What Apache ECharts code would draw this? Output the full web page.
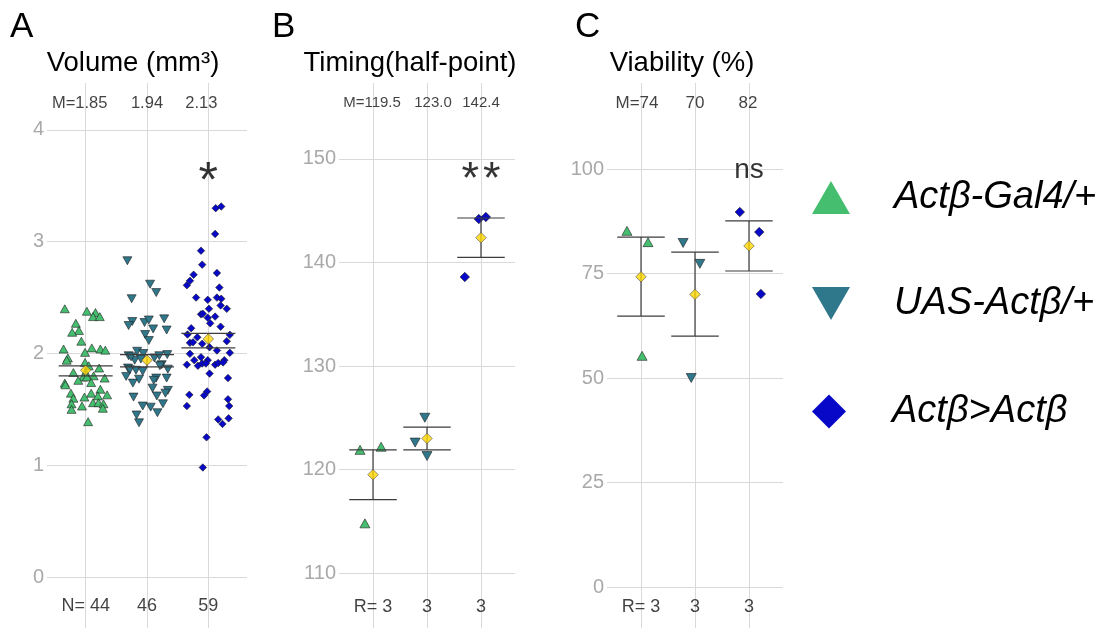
<!DOCTYPE html>
<html><head><meta charset="utf-8">
<script src="https://cdn.jsdelivr.net/npm/echarts@6/dist/echarts.min.js"></script>
<style>html,body{margin:0;padding:0;background:#fff}#c{width:1104px;height:628px}</style>
</head><body><div id="c"></div>
<script>
// ---------- DATA ----------
const groups = ['Actβ-Gal4/+', 'UAS-Actβ/+', 'Actβ>Actβ'];

// Panel A: Volume (mm3), values and horizontal jitter (in category units)
const volGal4 = [2.40,2.378,2.366,2.33,2.33,2.27,2.205,2.19,2.11,2.04,2.05,2.01,2.04,2.03,1.96,1.94,1.92,1.89,1.87,1.83,1.83,1.80,1.79,1.79,1.76,1.78,1.735,1.72,1.74,1.645,1.68,1.60,1.61,1.645,1.62,1.63,1.55,1.56,1.56,1.55,1.53,1.50,1.51,1.39];
const volGal4Jit = [-0.34,0.02,0.16,0.12,0.23,-0.16,-0.11,-0.22,-0.07,-0.36,0.10,-0.01,0.24,0.32,-0.29,-0.31,-0.01,0.05,0.22,-0.20,0.00,0.13,-0.04,0.02,-0.12,0.31,-0.34,-0.33,0.09,-0.24,0.24,-0.20,-0.02,0.09,0.20,0.35,-0.23,0.12,0.21,0.29,-0.06,-0.23,0.28,0.04];
const volUas = [2.83,2.62,2.545,2.49,2.286,2.25,2.277,2.30,2.31,2.22,2.21,2.17,2.116,2.02,1.98,1.99,1.94,1.90,1.87,1.86,1.855,1.85,1.84,1.795,1.77,1.78,1.76,1.735,1.78,1.69,1.67,1.645,1.62,1.61,1.55,1.53,1.52,1.47,1.45,1.38,1.89,2.00,1.96,1.95,1.98,1.97];
const volUasJit = [-0.32,0.05,0.15,-0.25,-0.24,-0.30,-0.04,0.03,0.28,0.10,0.32,-0.03,0.03,-0.16,-0.30,0.33,-0.20,0.24,-0.31,0.34,-0.28,-0.18,-0.07,-0.34,-0.13,0.15,0.11,-0.23,0.32,0.09,0.34,0.30,0.16,-0.22,0.26,-0.07,0.06,0.17,-0.17,-0.13,0.21,-0.06,0.12,-0.10,0.20,-0.26];
const volAct = [3.30,3.315,3.07,2.92,2.795,2.72,2.705,2.65,2.61,2.59,2.48,2.50,2.49,2.43,2.40,2.40,2.35,2.355,2.32,2.33,2.27,2.226,2.24,2.17,2.145,2.167,2.095,2.10,2.087,2.056,2.11,2.027,2.006,1.997,1.94,1.967,1.94,1.94,1.90,1.89,1.91,1.91,1.90,1.915,1.92,1.82,1.78,1.63,1.66,1.625,1.59,1.53,1.53,1.41,1.37,1.42,1.25,0.98,2.50];
const volActJit = [0.12,0.21,0.11,-0.12,-0.10,0.14,-0.24,-0.30,-0.35,0.18,-0.01,0.14,0.21,0.20,0.30,0.01,-0.12,-0.09,-0.01,0.11,0.03,-0.28,0.20,-0.34,-0.18,0.35,-0.30,-0.25,-0.10,0.02,0.30,0.14,0.35,-0.30,-0.23,-0.12,-0.01,0.26,-0.35,-0.17,-0.10,-0.04,0.11,0.16,0.24,0.02,0.32,-0.31,-0.02,-0.07,0.32,-0.35,0.34,0.16,0.23,0.33,-0.03,-0.09,-0.20];
const volMean = [1.85, 1.94, 2.13];
const volLow  = [1.80, 1.88, 2.05];
const volHigh = [1.89, 1.99, 2.18];
const volTicks = [0, 1, 2, 3, 4];
const volTop = ['M=1.85', '1.94', '2.13'];
const volBottom = ['N= 44', '46', '59'];

// Panel B: Timing (half-point)
const timGal4 = [121.9, 122.2, 114.8];  const timGal4Jit = [-0.24, 0.15, -0.15];
const timUas  = [125.0, 122.6, 121.3];  const timUasJit  = [-0.04, -0.22, 0.0];
const timAct  = [144.2, 144.4, 138.6];  const timActJit  = [-0.04, 0.09, -0.30];
const timMean = [119.5, 123.0, 142.4];
const timLow  = [117.1, 121.9, 140.5];
const timHigh = [121.9, 124.1, 144.3];
const timTicks = [110, 120, 130, 140, 150];
const timTop = ['M=119.5', '123.0', '142.4'];
const timBottom = ['R= 3', '3', '3'];

// Panel C: Viability (%)
const viaGal4 = [85.2, 82.5, 55.3];  const viaGal4Jit = [-0.26, 0.13, 0.02];
const viaUas  = [82.3, 77.3, 50.0];  const viaUasJit  = [-0.22, 0.09, -0.07];
const viaAct  = [89.7, 84.9, 70.1];  const viaActJit  = [-0.17, 0.19, 0.22];
const viaMean = [74.2, 70.0, 81.6];
const viaLow  = [64.8, 60.0, 75.6];
const viaHigh = [83.7, 80.1, 87.6];
const viaTicks = [0, 25, 50, 75, 100];
const viaTop = ['M=74', '70', '82'];
const viaBottom = ['R= 3', '3', '3'];

const signif = ['*', '**', 'ns'];
const titles = ['Volume (mm³)', 'Timing(half-point)', 'Viability (%)'];
const letters = ['A', 'B', 'C'];

// ---------- STYLE / LAYOUT ----------
const FONT = "'Liberation Sans', Arial, Helvetica, sans-serif";
const COLORS = ['#46be6f', '#2f778a', '#0808c8'];
const GRIDC = '#d9d9d9';
const panels = [
  { grid: {left: 47, top: 83, width: 200, height: 545}, yMin: -0.456, yMax: 4.42, ticks: volTicks,
    sets: [[volGal4, volGal4Jit], [volUas, volUasJit], [volAct, volActJit]],
    mean: volMean, low: volLow, high: volHigh, top: volTop, bottom: volBottom,
    topY: 4.24, botY: -0.26, topSize: 16.5, topOff: [-6, 0, -7], sigY: 3.60, sigSize: 50, sigOff: 9,
    tri: [9, 8], dia: 7.5, meanSize: 10.5, titleX: 133, letterX: 10 },
  { grid: {left: 339, top: 83, width: 176, height: 545}, yMin: 104.69, yMax: 157.34, ticks: timTicks,
    sets: [[timGal4, timGal4Jit], [timUas, timUasJit], [timAct, timActJit]],
    mean: timMean, low: timLow, high: timHigh, top: timTop, bottom: timBottom,
    topY: 155.4, botY: 106.7, topSize: 15, topOff: [-1, 6, 0], sigY: 148.9, sigSize: 45, sigOff: 10,
    tri: [10, 9], dia: 9.5, meanSize: 10.5, titleX: 410, letterX: 272 },
  { grid: {left: 607, top: 83, width: 176, height: 545}, yMin: -9.81, yMax: 120.57, ticks: viaTicks,
    sets: [[viaGal4, viaGal4Jit], [viaUas, viaUasJit], [viaAct, viaActJit]],
    mean: viaMean, low: viaLow, high: viaHigh, top: viaTop, bottom: viaBottom,
    topY: 115.8, botY: -4.8, topSize: 17, topOff: [-4, 0, -1], sigY: 99.8, sigSize: 28, sigOff: 0,
    tri: [10, 9], dia: 9.5, meanSize: 10.5, titleX: 682, letterX: 575 }
];

const grids = [], xAxes = [], yAxes = [], series = [], graphic = [];
panels.forEach((p, pi) => {
  grids.push(Object.assign({containLabel: false}, p.grid));
  xAxes.push({
    gridIndex: pi, type: 'value', min: 0.37, max: 3.63,
    axisLine: {show: false}, axisTick: {show: false, customValues: [1, 2, 3]},
    axisLabel: {show: false, customValues: [1, 2, 3]},
    splitLine: {show: true, lineStyle: {color: GRIDC, width: 1}}
  });
  yAxes.push({
    gridIndex: pi, type: 'value', min: p.yMin, max: p.yMax,
    axisLine: {show: false}, axisTick: {show: false, customValues: p.ticks},
    axisLabel: {customValues: p.ticks, fontSize: 20, color: '#a9a9a9', margin: 3, fontFamily: FONT},
    splitLine: {show: true, lineStyle: {color: GRIDC, width: 1}}
  });
  // points
  p.sets.forEach((set, g) => {
    const vals = set[0], jit = set[1];
    series.push({
      type: 'scatter', name: groups[g], xAxisIndex: pi, yAxisIndex: pi, silent: true,
      symbol: g === 2 ? 'diamond' : 'triangle', symbolRotate: g === 1 ? 180 : 0,
      symbolSize: g === 2 ? [p.dia, p.dia] : p.tri,
      itemStyle: {color: COLORS[g], borderColor: '#1c1c1c', borderWidth: 0.6, opacity: 1},
      data: vals.map((v, i) => [g + 1 + jit[i], v]), z: 2, animation: false
    });
  });
  // error bars
  series.push({
    type: 'custom', name: 'err' + pi, xAxisIndex: pi, yAxisIndex: pi, silent: true, z: 3, animation: false,
    data: p.mean.map((m, i) => [i + 1, m, p.low[i], p.high[i]]),
    encode: {x: 0, y: [2, 3]},
    renderItem: (params, api) => {
      const x = api.value(0);
      const lo = api.coord([x, api.value(2)]);
      const hi = api.coord([x, api.value(3)]);
      const hw = api.size([0.44, 0])[0];
      const st = {stroke: '#3c3c3c', lineWidth: 1.2};
      return {type: 'group', children: [
        {type: 'line', shape: {x1: lo[0], y1: lo[1], x2: hi[0], y2: hi[1]}, style: st},
        {type: 'line', shape: {x1: lo[0] - hw, y1: lo[1], x2: lo[0] + hw, y2: lo[1]}, style: st},
        {type: 'line', shape: {x1: hi[0] - hw, y1: hi[1], x2: hi[0] + hw, y2: hi[1]}, style: st}
      ]};
    }
  });
  // means
  series.push({
    type: 'scatter', name: 'mean' + pi, xAxisIndex: pi, yAxisIndex: pi, silent: true, z: 4, animation: false,
    symbol: 'diamond', symbolSize: p.meanSize,
    itemStyle: {color: '#ffd700', borderColor: '#555', borderWidth: 0.8},
    data: p.mean.map((m, i) => [i + 1, m])
  });
  // top (M) and bottom (N/R) annotations
  const annot = (texts, yv, size, offs, nm) => ({
    type: 'scatter', name: nm, xAxisIndex: pi, yAxisIndex: pi, silent: true, symbolSize: 0, z: 5, animation: false,
    data: texts.map((t, i) => ({value: [i + 1, yv], label: {offset: [offs ? offs[i] : 0, 0]}})),
    label: {show: true, position: 'inside', formatter: (prm) => texts[prm.dataIndex],
      fontSize: size, color: '#111', fontFamily: FONT}
  });
  series.push(annot(p.top, p.topY, p.topSize, p.topOff, 'top' + pi));
  series.push(annot(p.bottom, p.botY, 18, null, 'bot' + pi));
  // significance
  series.push({
    type: 'scatter', name: 'sig' + pi, xAxisIndex: pi, yAxisIndex: pi, silent: true, symbolSize: 0, z: 5, animation: false,
    data: [[3, p.sigY]],
    label: {show: true, position: 'inside', offset: [0, p.sigOff],
      formatter: pi === 1 ? '{s|*}{s|*}' : signif[pi],
      fontSize: p.sigSize, color: '#000', fontFamily: FONT,
      rich: {s: {fontSize: p.sigSize, fontFamily: FONT, color: '#000', padding: [0, 2]}}}
  });
  graphic.push({type: 'text', x: p.titleX, y: 63, silent: true,
    style: {text: titles[pi], font: `27.5px ${FONT}`, fill: '#000', align: 'center', verticalAlign: 'middle'}});
  graphic.push({type: 'text', x: p.letterX, y: 27, silent: true,
    style: {text: letters[pi], font: `35px ${FONT}`, fill: '#000', align: 'left', verticalAlign: 'middle'}});
});

const ICONS = ['path://M19,0 L38,33 L0,33 Z', 'path://M0,0 L38,0 L19,33 Z', 'path://M17,0 L34,17 L17,34 L0,17 Z'];
const legendTops = [178.5, 284.5, 392.5];
const legends = groups.map((name, i) => ({
  data: [{name: name, icon: ICONS[i], itemStyle: {color: COLORS[i], borderWidth: 0}}],
  left: 812, top: legendTops[i], orient: 'vertical', padding: 0,
  itemWidth: 116, itemHeight: i === 2 ? 34 : 33, symbolKeepAspect: true, selectedMode: false,
  textStyle: {fontSize: 38, fontStyle: 'italic', color: '#000', fontFamily: FONT}
}));

const chart = echarts.init(document.getElementById('c'));
chart.setOption({
  animation: false, backgroundColor: '#fff',
  grid: grids, xAxis: xAxes, yAxis: yAxes, series: series, legend: legends, graphic: graphic
});
</script></body></html>
